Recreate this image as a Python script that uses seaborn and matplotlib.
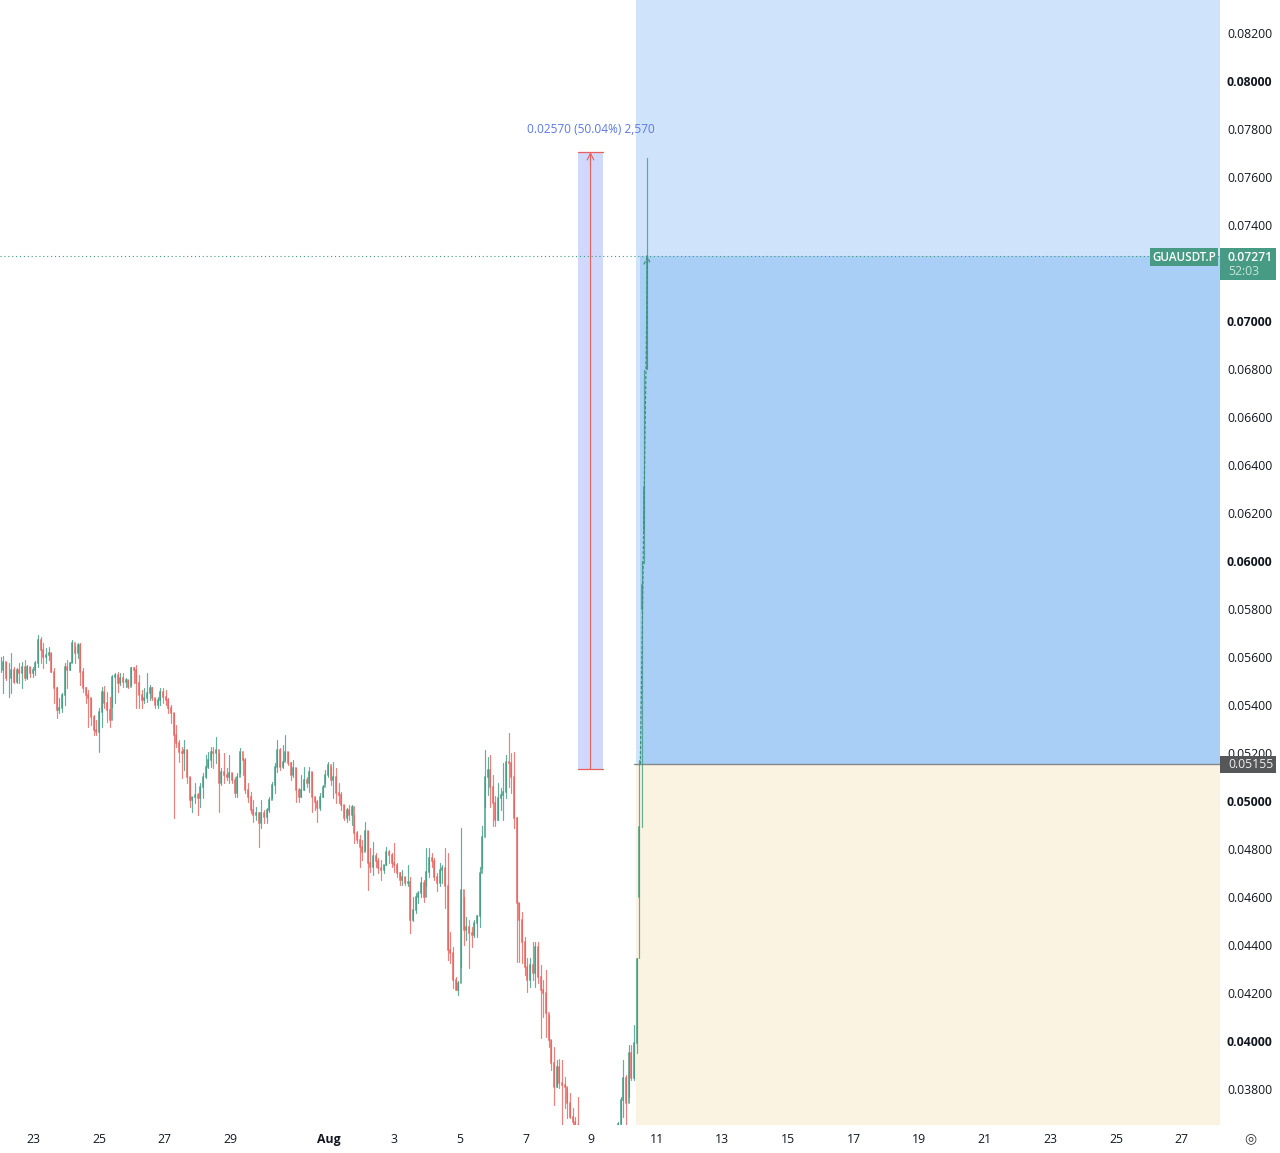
"""GUAUSDT.P 2h candles with a long position and a price range measure."""

import matplotlib
matplotlib.use("Agg")
import matplotlib.pyplot as plt
from matplotlib.patches import Rectangle
from matplotlib.transforms import blended_transform_factory
import numpy as np
import pandas as pd
import seaborn as sns

# candles, in 1e-5 USDT; open is the previous close
closes = [
    5546, 5580, 5511, 5511, 5546, 5497, 5546, 5532, 5560, 5511,
    5560, 5532, 5546, 5573, 5671, 5629, 5601, 5608, 5615, 5539,
    5469, 5379, 5386, 5441, 5560, 5546, 5573, 5657, 5615, 5650,
    5539, 5469, 5441, 5428, 5351, 5296, 5289, 5372, 5455, 5407,
    5379, 5337, 5518, 5525, 5490, 5511, 5497, 5504, 5476, 5553,
    5546, 5490, 5441, 5421, 5428, 5448, 5469, 5428, 5400, 5421,
    5455, 5435, 5421, 5386, 5365, 5275, 5240, 5205, 5198, 5212,
    5101, 5004, 5018, 5025, 5011, 5060, 5101, 5143, 5171, 5205,
    5198, 5212, 5073, 5122, 5108, 5101, 5115, 5087, 5032, 5101,
    5205, 5171, 5046, 5018, 4962, 4941, 4948, 4907, 4948, 4935,
    4962, 5004, 5066, 5143, 5212, 5143, 5164, 5205, 5157, 5108,
    5136, 5046, 5018, 5046, 5087, 5073, 5122, 5018, 4997, 4969,
    5018, 5060, 5108, 5150, 5087, 5102, 5032, 5025, 4984, 4928,
    4963, 4942, 4977, 4866, 4838, 4810, 4789, 4873, 4741, 4727,
    4769, 4748, 4720, 4713, 4734, 4789, 4775, 4741, 4734, 4699,
    4671, 4685, 4657, 4664, 4505, 4546, 4602, 4616, 4657, 4602,
    4706, 4762, 4748, 4685, 4657, 4713, 4720, 4644, 4380, 4366,
    4255, 4213, 4241, 4630, 4463, 4477, 4449, 4440, 4491, 4519,
    4699, 4852, 5102, 5130, 5060, 4991, 4921, 5012, 5025, 5039,
    5164, 5157, 5102, 4928, 4574, 4505, 4414, 4310, 4255, 4317,
    4282, 4393, 4268, 4213, 4199, 4116, 4005, 3907, 3810, 3893,
    3824, 3817, 3810, 3741, 3685, 3664, 3650, 3643, 3620, 3600,
    3590, 3580, 3600, 3590, 3570, 3560, 3580, 3570, 3590, 3600,
    3610, 3630, 3655, 3754, 3845, 3741, 3949, 3845, 3991,
]
highs = [
    5601, 5604, 5580, 5573, 5618, 5560, 5553, 5573, 5580, 5587,
    5566, 5560, 5560, 5585, 5691, 5685, 5657, 5636, 5643, 5615,
    5553, 5476, 5428, 5448, 5573, 5587, 5580, 5671, 5643, 5660,
    5657, 5553, 5476, 5462, 5428, 5358, 5337, 5386, 5476, 5479,
    5455, 5435, 5525, 5532, 5539, 5532, 5532, 5511, 5504, 5560,
    5560, 5566, 5525, 5462, 5469, 5532, 5483, 5476, 5428, 5435,
    5469, 5469, 5462, 5428, 5400, 5365, 5316, 5254, 5226, 5254,
    5212, 5101, 5018, 5073, 5032, 5073, 5115, 5191, 5205, 5226,
    5226, 5268, 5198, 5136, 5198, 5136, 5191, 5115, 5101, 5115,
    5219, 5178, 5178, 5073, 5039, 5004, 4976, 4955, 5004, 4962,
    4969, 5018, 5080, 5157, 5254, 5219, 5233, 5275, 5205, 5164,
    5171, 5136, 5053, 5108, 5143, 5101, 5143, 5122, 5018, 5004,
    5032, 5066, 5129, 5164, 5143, 5164, 5137, 5074, 5039, 4984,
    4970, 4984, 4984, 4942, 4873, 4859, 4838, 4914, 4873, 4803,
    4831, 4782, 4762, 4755, 4734, 4810, 4796, 4782, 4824, 4741,
    4706, 4713, 4685, 4734, 4685, 4602, 4616, 4623, 4685, 4671,
    4803, 4803, 4782, 4762, 4699, 4741, 4734, 4803, 4782, 4456,
    4393, 4268, 4248, 4887, 4602, 4518, 4505, 4477, 4505, 4525,
    4727, 4894, 5213, 5185, 5192, 5109, 5019, 5074, 5053, 5157,
    5192, 5282, 5199, 5206, 4935, 4574, 4539, 4435, 4345, 4345,
    4414, 4414, 4414, 4317, 4255, 4296, 4109, 4005, 3977, 3921,
    3924, 3921, 3852, 3803, 3782, 3720, 3685, 3768, 3640, 3630,
    3610, 3600, 3610, 3610, 3595, 3580, 3590, 3590, 3600, 3610,
    3625, 3640, 3664, 3768, 3921, 3859, 3984, 3984, 4067,
]
lows = [
    5539, 5448, 5504, 5432, 5448, 5490, 5490, 5490, 5469, 5504,
    5507, 5515, 5518, 5525, 5560, 5573, 5553, 5573, 5587, 5539,
    5407, 5344, 5365, 5372, 5400, 5469, 5546, 5580, 5573, 5594,
    5483, 5455, 5407, 5310, 5316, 5275, 5275, 5205, 5310, 5386,
    5330, 5310, 5393, 5407, 5455, 5483, 5476, 5476, 5469, 5483,
    5490, 5386, 5386, 5386, 5407, 5414, 5421, 5421, 5386, 5386,
    5400, 5407, 5400, 5365, 5323, 4928, 5226, 5164, 5094, 5129,
    5073, 4976, 4955, 4990, 4941, 4976, 5011, 5094, 5136, 5143,
    5136, 5157, 4955, 5066, 5073, 5087, 5073, 5073, 5018, 5018,
    5115, 5108, 5032, 4997, 4948, 4914, 4921, 4810, 4886, 4907,
    4907, 4955, 5011, 5032, 5122, 5129, 5136, 5171, 5150, 5087,
    5101, 4997, 4997, 5018, 5046, 5060, 5039, 4955, 4962, 4914,
    4962, 5018, 5073, 5101, 5066, 5012, 4991, 4991, 4963, 4921,
    4914, 4921, 4900, 4824, 4824, 4727, 4755, 4796, 4630, 4706,
    4692, 4727, 4699, 4671, 4699, 4734, 4741, 4727, 4706, 4685,
    4650, 4650, 4650, 4644, 4449, 4498, 4532, 4574, 4602, 4581,
    4644, 4685, 4727, 4671, 4623, 4644, 4657, 4553, 4338, 4324,
    4220, 4213, 4192, 4310, 4400, 4421, 4303, 4393, 4435, 4435,
    4477, 4720, 4977, 5025, 4977, 4894, 4894, 4921, 4963, 4921,
    5012, 5060, 5032, 4887, 4331, 4331, 4324, 4275, 4206, 4227,
    4255, 4227, 4241, 4012, 4102, 4018, 3977, 3880, 3734, 3810,
    3803, 3650, 3720, 3678, 3678, 3650, 3643, 3616, 3600, 3580,
    3570, 3560, 3570, 3570, 3550, 3540, 3550, 3550, 3560, 3580,
    3590, 3600, 3620, 3643, 3685, 3650, 3768, 3838, 3838,
]

# the last five bars of the pump, full OHLC
pump_opens = [3991, 4600, 5800, 6129, 6800]
pump_closes = [4340, 4890, 5900, 6308, 7271]
pump_highs = [4345, 5171, 6000, 6796, 7679]
pump_lows = [3950, 4345, 4890, 5992, 6800]

last_price = 0.07271
entry_price = 0.05155
measure_low = 0.05134
measure_high = 0.07704

tick_days = [23, 25, 27, 29, 32, 34, 36, 38, 40, 42, 44, 46, 48, 50, 52, 54, 56, 58]
tick_labels = ["23", "25", "27", "29", "Aug", "3", "5", "7", "9", "11", "13",
               "15", "17", "19", "21", "23", "25", "27"]
# 0.07200 sits behind the last price badge in the reference
price_ticks = [0.038, 0.040, 0.042, 0.044, 0.046, 0.048, 0.050, 0.052, 0.054, 0.056,
               0.058, 0.060, 0.062, 0.064, 0.066, 0.068, 0.070, 0.074, 0.076,
               0.078, 0.080, 0.082]

GREEN = "#3f9a80"
RED = "#e8605c"
BAR_STEP = 0.0811  # days between bars on the screen
FONT = "Open Sans"

opens = [closes[0]] + closes[:-1] + pump_opens
all_closes = closes + pump_closes
all_highs = highs + pump_highs
all_lows = lows + pump_lows

rows_wick = []
rows_body = []
for i, (o, c, h, l) in enumerate(zip(opens, all_closes, all_highs, all_lows)):
    day = 22 + i * BAR_STEP
    side = "up" if c >= o else "down"
    rows_wick += [(i, day, h / 1e5, side), (i, day, l / 1e5, side)]
    rows_body += [(i, day, o / 1e5, side), (i, day, c / 1e5, side)]
cols = ["bar", "day", "price", "side"]
wicks = pd.DataFrame(rows_wick, columns=cols)
bodies = pd.DataFrame(rows_body, columns=cols)

sns.set_theme(style="white")
plt.rcParams["font.family"] = [FONT, "DejaVu Sans"]

fig = plt.figure(figsize=(12.8, 11.53), dpi=100)
ax = fig.add_axes([0, 28 / 1153, 1220 / 1280, 1125 / 1153])
ax.set_xlim(21.98, 59.17)
ax.set_ylim(0.0365, 0.083375)

# position tool
pos_left = 41.38
pos_inner = 41.5
pos_right = 59.17
ymin, ymax = ax.get_ylim()
ax.add_patch(Rectangle((pos_left, last_price), pos_right - pos_left, ymax - last_price,
                       color="#cfe3fa", lw=0, zorder=1))
ax.add_patch(Rectangle((pos_left, entry_price), pos_right - pos_left, last_price - entry_price,
                       color="#cfe3fa", lw=0, zorder=1))
ax.add_patch(Rectangle((pos_inner, entry_price), pos_right - pos_inner, last_price - entry_price,
                       color="#a9cff7", lw=0, zorder=1))
ax.add_patch(Rectangle((pos_left, ymin), pos_right - pos_left, entry_price - ymin,
                       color="#fbf3e2", lw=0, zorder=1))
ax.plot([41.32, pos_right], [entry_price, entry_price], color="#858a8f", lw=1.0, zorder=2)

# price range measure
ax.add_patch(Rectangle((39.60, measure_low), 0.76, measure_high - measure_low,
                       color="#d0d9fb", lw=0, zorder=1))
ax.plot([39.98, 39.98], [measure_low, measure_high], color=RED, lw=0.8, zorder=2)
ax.plot([39.60, 40.36], [measure_low, measure_low], color=RED, lw=0.9, zorder=2)
ax.plot([39.60, 40.36], [measure_high, measure_high], color=RED, lw=0.9, zorder=2)
ax.annotate("", xy=(39.98, measure_high), xytext=(39.98, measure_high - 0.0006),
            arrowprops=dict(arrowstyle="->", color=RED, lw=0.8, mutation_scale=12,
                            shrinkA=0, shrinkB=0), zorder=2)
ax.text(39.98, 0.07796, "0.02570 (50.04%) 2,570", color="#5b78e6", fontsize=8.6,
        ha="center", va="center")

# last price line
ax.plot([ax.get_xlim()[0], pos_right], [last_price, last_price], color=GREEN, lw=0.8,
        ls=(0, (1, 2.5)), zorder=2)

palette = {"up": GREEN, "down": RED}
sns.lineplot(data=wicks, x="day", y="price", units="bar", hue="side", estimator=None,
             palette=palette, linewidth=0.85, legend=False, sort=False, ax=ax,
             alpha=0.8, zorder=3)
sns.lineplot(data=bodies, x="day", y="price", units="bar", hue="side", estimator=None,
             palette=palette, linewidth=1.4, legend=False, sort=False, ax=ax,
             alpha=0.75, zorder=3)

# dashed trend along the pump
ax.annotate("", xy=(41.72, last_price), xytext=(41.5, entry_price),
            arrowprops=dict(arrowstyle="->", color="#3f8f7c", lw=0.9, ls=(0, (2, 2)),
                            mutation_scale=12, shrinkA=0, shrinkB=0), zorder=4)

sns.despine(ax=ax, left=True, bottom=True, right=True, top=True)
ax.set_xlabel("")
ax.set_ylabel("")
ax.set_xticks(tick_days)
ax.set_xticklabels(tick_labels, fontsize=8.8, color="#131722")
ax.yaxis.tick_right()
ax.set_yticks(price_ticks)
ax.set_yticklabels([f"{p:.5f}" for p in price_ticks], fontsize=8.8, color="#131722")
ax.tick_params(axis="x", length=0, pad=6)
ax.tick_params(axis="y", length=0, pad=5)
for label in ax.get_xticklabels():
    if label.get_text() == "Aug":
        label.set_fontweight("bold")
for label, p in zip(ax.get_yticklabels(), price_ticks):
    if round(p * 1000) % 10 == 0:
        label.set_fontweight("bold")

# badges on the price scale
trans = blended_transform_factory(ax.transAxes, ax.transData)
px = 1 / 1220
per_y = (ymax - ymin) / 1125


def badge(x0, x1, y_top, y_bottom, color):
    ax.add_patch(Rectangle((x0 * px, y_bottom), (x1 - x0) * px, y_top - y_bottom,
                           transform=trans, color=color, lw=0, clip_on=False, zorder=6))


badge(1150, 1218, last_price + 8 * per_y, last_price - 10 * per_y, "#479a84")
badge(1220, 1276, last_price + 8 * per_y, last_price - 24 * per_y, "#479a84")
badge(1220, 1276, entry_price + 8 * per_y, entry_price - 9 * per_y, "#555759")
ax.text(1184 * px, last_price - 1.5 * per_y, "GUAUSDT.P", transform=trans, color="white",
        fontsize=8.4, fontweight="semibold", ha="center", va="center", zorder=7, clip_on=False)
ax.text(1228 * px, last_price - 1.5 * per_y, f"{last_price:.5f}", transform=trans, color="white",
        fontsize=8.8, fontweight="semibold", ha="left", va="center", zorder=7, clip_on=False)
ax.text(1228 * px, last_price - 15.5 * per_y, "52:03", transform=trans, color="#c5e4da",
        fontsize=8.8, ha="left", va="center", zorder=7, clip_on=False)
ax.text(1228 * px, entry_price - 1 * per_y, f"{entry_price:.5f}", transform=trans, color="#f0f0f0",
        fontsize=8.8, ha="left", va="center", zorder=7, clip_on=False)

# settings icon
fig.text(1250 / 1280, 1 - 1138 / 1153, "\u25ce", fontsize=10, color="#333333",
         family="DejaVu Sans", ha="center", va="center")

fig.savefig("out.png", dpi=100)
plt.close(fig)
